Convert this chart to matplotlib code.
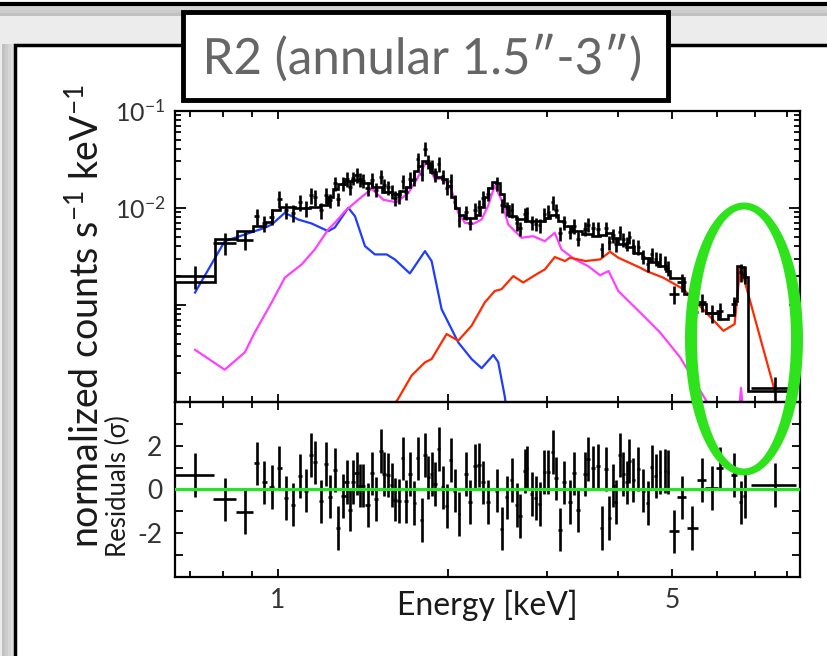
"""
XSPEC-style spectrum panel (R2 annular region): data, model components and residuals.
"""

import numpy as np
import matplotlib
matplotlib.use("Agg")
import matplotlib.pyplot as plt
from matplotlib.patches import Rectangle, PathPatch
from matplotlib.path import Path
from matplotlib.textpath import TextPath
from matplotlib.font_manager import FontProperties
from matplotlib.transforms import Affine2D
from matplotlib.ticker import FixedLocator, NullFormatter

W, H = 828, 656

# ---- data points (keV, counts/s/keV) ----
e_mid = [0.714, 0.806, 0.875, 0.918, 0.947, 0.976, 1.007, 1.034, 1.063, 1.095,
         1.122, 1.146, 1.164, 1.193, 1.218, 1.238, 1.263, 1.280, 1.307, 1.325,
         1.343, 1.361, 1.380, 1.399, 1.418, 1.443, 1.467, 1.493, 1.524, 1.545,
         1.570, 1.592, 1.613, 1.640, 1.665, 1.688, 1.715, 1.746, 1.770, 1.799,
         1.824, 1.848, 1.874, 1.900, 1.931, 1.960, 1.992, 2.027, 2.061, 2.095,
         2.153, 2.191, 2.236, 2.273, 2.313, 2.360, 2.443, 2.493, 2.544, 2.597,
         2.650, 2.686, 2.742, 2.761, 2.818, 2.864, 2.914, 2.966, 3.015, 3.069,
         3.107, 3.162, 3.218, 3.294, 3.353, 3.408, 3.502, 3.549, 3.622, 3.697,
         3.748, 3.814, 3.866, 3.930, 3.973, 4.038, 4.094, 4.151, 4.195, 4.264,
         4.351, 4.441, 4.522, 4.596, 4.671, 4.754, 4.852, 4.918, 5.040, 5.194,
         5.424, 5.636, 5.871, 6.072, 6.436, 6.614, 6.723, 7.597]
e_half = [0.058, 0.037, 0.030, 0.009, 0.009, 0.009, 0.009, 0.009, 0.009, 0.009,
          0.009, 0.009, 0.009, 0.009, 0.009, 0.012, 0.012, 0.012, 0.012, 0.012,
          0.012, 0.012, 0.012, 0.012, 0.012, 0.012, 0.012, 0.012, 0.012, 0.012,
          0.012, 0.012, 0.012, 0.012, 0.012, 0.012, 0.012, 0.012, 0.012, 0.012,
          0.012, 0.012, 0.012, 0.012, 0.012, 0.012, 0.012, 0.012, 0.012, 0.012,
          0.018, 0.018, 0.018, 0.018, 0.018, 0.018, 0.018, 0.018, 0.018, 0.018,
          0.018, 0.018, 0.018, 0.018, 0.018, 0.018, 0.018, 0.018, 0.018, 0.018,
          0.026, 0.026, 0.026, 0.026, 0.026, 0.026, 0.026, 0.026, 0.026, 0.026,
          0.026, 0.026, 0.026, 0.026, 0.026, 0.026, 0.026, 0.026, 0.026, 0.026,
          0.026, 0.026, 0.026, 0.026, 0.026, 0.026, 0.026, 0.026, 0.10, 0.10,
          0.12, 0.11, 0.15, 0.09, 0.08, 0.04, 0.04, 0.70]
flux = [0.00200, 0.00436, 0.00465, 0.00822, 0.00698, 0.00812, 0.0124, 0.00953, 0.00891, 0.01143,
        0.00986, 0.01358, 0.01288, 0.00942, 0.0134, 0.0120, 0.0178, 0.01236, 0.0177, 0.01987,
        0.0163, 0.0203, 0.0218, 0.0197, 0.0191, 0.0159, 0.0195, 0.01538, 0.0210, 0.0171,
        0.0162, 0.0146, 0.01264, 0.01315, 0.0189, 0.01442, 0.0199, 0.0200, 0.0315, 0.0224,
        0.0405, 0.0301, 0.0269, 0.0219, 0.0283, 0.0212, 0.0161, 0.0190, 0.01156, 0.00753,
        0.00895, 0.00695, 0.00949, 0.01031, 0.01262, 0.01396, 0.0178, 0.01064, 0.00993, 0.00953,
        0.00698, 0.00615, 0.00857, 0.00877, 0.00708, 0.00681, 0.00665, 0.00859, 0.00910, 0.01135,
        0.00940, 0.00547, 0.00708, 0.00562, 0.00653, 0.00482, 0.00608, 0.00668, 0.00614, 0.00611,
        0.00375, 0.00617, 0.00442, 0.00521, 0.00424, 0.00560, 0.00472, 0.00432, 0.00499, 0.00405,
        0.00399, 0.00313, 0.00264, 0.00333, 0.00299, 0.00296, 0.00273, 0.00240, 0.00128, 0.00171,
        0.000841, 0.00107, 0.000828, 0.000875, 0.00101, 0.00220, 0.00207, 0.000140]
flux_err = [0.00054, 0.0011, 0.0010, 0.0016, 0.0013, 0.0015, 0.0024, 0.0018, 0.0017, 0.0022,
            0.0019, 0.0026, 0.0024, 0.0018, 0.0025, 0.0020, 0.0029, 0.0020, 0.0029, 0.0033,
            0.0027, 0.0033, 0.0036, 0.0033, 0.0032, 0.0026, 0.0032, 0.0025, 0.0035, 0.0028,
            0.0027, 0.0024, 0.0021, 0.0022, 0.0031, 0.0024, 0.0033, 0.0033, 0.0052, 0.0037,
            0.0067, 0.0050, 0.0044, 0.0036, 0.0047, 0.0035, 0.0027, 0.0031, 0.0019, 0.0012,
            0.0015, 0.0011, 0.0016, 0.0017, 0.0021, 0.0023, 0.0029, 0.0018, 0.0016, 0.0016,
            0.0012, 0.0010, 0.0014, 0.0014, 0.0012, 0.0011, 0.0011, 0.0014, 0.0015, 0.0019,
            0.0016, 0.0009, 0.0012, 0.0009, 0.0011, 0.0008, 0.0010, 0.0011, 0.0010, 0.0010,
            0.0006, 0.0010, 0.0007, 0.0009, 0.0007, 0.0009, 0.0008, 0.0007, 0.0008, 0.0007,
            0.0007, 0.00052, 0.00044, 0.00055, 0.00049, 0.00049, 0.00045, 0.00040, 0.00027, 0.00036,
            0.00018, 0.00022, 0.00017, 0.00018, 0.00021, 0.00046, 0.00043, 0.00004]
# residuals in sigma (error bar is +-1 sigma)
resid = [0.67, -0.46, -1.05, 1.19, 0.32, 0.12, 1.0, -0.4, -0.7, 0.62,
         -0.06, 1.57, 1.23, -0.55, 1.16, -0.33, 0.88, -1.77, -0.29, 0.35,
         -0.93, 0.35, 0.73, 0.17, 0.17, -0.72, 0.73, -0.44, 1.77, 0.70,
         0.65, 0.20, -0.47, -0.52, 1.42, -0.55, 0.70, -0.62, 1.42, -1.4,
         1.57, 0.55, 0.70, 0.24, 1.84, 0.09, -0.75, 1.34, -0.06, -1.13,
         0.70, -0.59, 1.08, 1.11, 0.32, -0.59, -0.06, -1.8, -0.37, 0.44,
         -0.72, -1.23, 0.85, 1.0, -0.21, -0.41, -0.67, 0.78, 0.8, 1.72,
         0.5, -1.84, 0.32, -0.59, 0.73, -0.94, 0.70, 1.38, 1.0, 1.08,
         -1.77, 0.93, -1.32, 0.17, -0.59, 1.57, 0.7, 0.32, 1.31, 0.44,
         0.93, -0.06, -0.62, 1.03, 0.62, 0.8, 0.85, 0.8, -1.93, -0.37,
         -1.77, 0.44, 0.06, 0.96, 0.67, -0.6, -0.29, 0.2]
resid_err = [1.0] * len(resid)

# ---- total model (histogram) ----
model_edges = [0.658, 0.774, 0.846, 0.905, 0.950, 0.977, 1.009, 1.073, 1.141, 1.188,
               1.228, 1.253, 1.279, 1.310, 1.354, 1.410, 1.469, 1.530, 1.594, 1.647,
               1.688, 1.715, 1.744, 1.772, 1.801, 1.830, 1.861, 1.907, 1.954, 1.994,
               2.027, 2.061, 2.095, 2.138, 2.191, 2.245, 2.282, 2.320, 2.357, 2.396,
               2.436, 2.476, 2.516, 2.568, 2.642, 2.742, 2.856, 2.975, 3.036, 3.086,
               3.136, 3.214, 3.320, 3.459, 3.603, 3.722, 3.814, 3.909, 4.006, 4.139,
               4.276, 4.418, 4.565, 4.716, 4.873, 4.953, 5.244, 5.507, 5.736, 6.025,
               6.277, 6.431, 6.511, 6.615, 6.697, 6.808, 8.080]
model_vals = [0.00172, 0.00472, 0.00583, 0.00657, 0.00722, 0.00959, 0.0102, 0.01005, 0.01017, 0.01059,
              0.01297, 0.01552, 0.0175, 0.0188, 0.0194, 0.01786, 0.01622, 0.01456, 0.01383, 0.01494,
              0.01648, 0.01914, 0.0237, 0.0267, 0.0302, 0.0288, 0.0235, 0.0209, 0.0199, 0.0167,
              0.01303, 0.00993, 0.00847, 0.0078, 0.00776, 0.00841, 0.01028, 0.01303, 0.0159, 0.01837,
              0.01791, 0.01383, 0.01038, 0.00832, 0.0076, 0.00734, 0.00739, 0.00787, 0.00851, 0.00841,
              0.00731, 0.00649, 0.00577, 0.00537, 0.00513, 0.00519, 0.00546, 0.00483, 0.00425, 0.00391,
              0.00343, 0.00301, 0.00274, 0.00249, 0.00222, 0.0019, 0.00129, 0.00102, 0.000822, 0.000713,
              0.000784, 0.00109, 0.00249, 0.00244, 0.00192, 0.000131]

# ---- model components ----
blue_e = [0.714, 0.806, 0.875, 0.949, 0.976, 1.030, 1.088, 1.149, 1.229, 1.263,
          1.334, 1.371, 1.428, 1.487, 1.560, 1.613, 1.715, 1.824, 1.874, 1.952,
          2.089, 2.206, 2.298, 2.410, 2.459, 2.527, 2.560]
blue_f = [0.00134, 0.00453, 0.00531, 0.00622, 0.00673, 0.00888, 0.00757, 0.00689, 0.00574, 0.00627,
          0.0100, 0.00819, 0.00403, 0.00331, 0.00331, 0.00294, 0.00211, 0.00358, 0.00283, 0.000903,
          0.000411, 0.000277, 0.000223, 0.000305, 0.000258, 0.000112, 0.00006]

magenta_e = [0.714, 0.806, 0.875, 0.911, 0.976, 1.030, 1.103, 1.164, 1.229, 1.263,
             1.316, 1.389, 1.468, 1.539, 1.624, 1.704, 1.763, 1.837, 1.900, 1.965,
             2.032, 2.089, 2.147, 2.222, 2.298, 2.360, 2.424, 2.492, 2.561, 2.705,
             2.835, 2.974, 3.097, 3.183, 3.362, 3.548, 3.725, 3.857, 4.013, 4.358,
             4.448, 4.757, 5.162, 5.744, 5.880, 6.300, 6.500, 6.620, 6.740, 8.400]
magenta_f = [0.000345, 0.000215, 0.000325, 0.000521, 0.00106, 0.00191, 0.00261, 0.00373, 0.00598, 0.00700,
             0.00921, 0.0121, 0.0157, 0.0121, 0.0114, 0.0142, 0.0195, 0.0305, 0.0195, 0.0203,
             0.0154, 0.00888, 0.00700, 0.00684, 0.00757, 0.0105, 0.0169, 0.0121, 0.00673, 0.00491,
             0.00510, 0.00453, 0.00553, 0.00373, 0.00294, 0.00251, 0.00202, 0.00223, 0.00139, 0.000867,
             0.000771, 0.000521, 0.000289, 0.000103, 0.000073, 0.00004, 0.00004, 0.00014, 0.00004, 0.00001]

red_e = [1.600, 1.635, 1.727, 1.824, 1.874, 1.992, 2.089, 2.206, 2.328, 2.424,
         2.492, 2.615, 2.723, 2.875, 2.974, 3.097, 3.229, 3.296, 3.511, 3.725,
         3.880, 4.013, 4.385, 4.501, 4.818, 5.235, 5.668, 6.161, 6.449, 6.594,
         6.680, 7.610]
red_f = [0.00009, 0.000108, 0.000187, 0.000256, 0.000277, 0.000501, 0.000428, 0.000610, 0.00106, 0.00139,
         0.00145, 0.00198, 0.00170, 0.00207, 0.00232, 0.00311, 0.00283, 0.00306, 0.00283, 0.00294,
         0.00353, 0.00306, 0.00242, 0.00223, 0.00191, 0.00145, 0.000903, 0.000541, 0.000634, 0.00242,
         0.00198, 0.000126]

x_ticks = [1, 2, 5]
x_ticklabels = ["1", "", "5"]
x_minor = [0.7, 0.8, 0.9, 3, 4, 6, 7, 8]
res_ticks = [-4, -3, -2, -1, 0, 1, 2, 3, 4]
res_ticklabels = ["", "", "-2", "", "0", "", "2", "", ""]

title = "R2 (annular 1.5\u2033-3\u2033)"

plt.rcParams["font.family"] = ["Lato", "DejaVu Sans"]
plt.rcParams["mathtext.fontset"] = "custom"
plt.rcParams["mathtext.rm"] = "Lato"
plt.rcParams["mathtext.it"] = "Lato:italic"
plt.rcParams["mathtext.bf"] = "Lato:bold"

fig = plt.figure(figsize=(W / 100, H / 100), dpi=100)
fig.patch.set_facecolor("#ececec")

# pixel coordinates (origin top-left) -> figure
pix = Affine2D().scale(1 / W, -1 / H).translate(0, 1) + fig.transFigure

# page decoration: shadowed panels (kept behind the axes)
for i, a in enumerate([0.10, 0.16, 0.22, 0.30]):
    fig.add_artist(Rectangle((0, 4 + i * 3), W, 3, transform=pix, color="k", alpha=a * 0.6,
                             lw=0, zorder=-5))
    fig.add_artist(Rectangle((14 - (i + 1) * 3, 44), 3, H, transform=pix, color="k",
                             alpha=a * 0.6, lw=0, zorder=-5))
fig.add_artist(Rectangle((-5, -10), W + 10, 14, transform=pix, facecolor="white",
                         edgecolor="black", lw=3, zorder=-4))
fig.add_artist(Rectangle((15, 45), W + 20, H, transform=pix, facecolor="white",
                         edgecolor="black", lw=2.5, zorder=-4))

# title box
fig.add_artist(Rectangle((186, 15), 485, 88, transform=pix, facecolor="#9a9a9a", lw=0,
                         alpha=0.5, zorder=-3))
fig.add_artist(Rectangle((183, 12), 485, 88, transform=pix, facecolor="white",
                         edgecolor="black", lw=3.5, zorder=-2))
# condensed title: text outline squeezed horizontally
tp = TextPath((0, 0), title, size=100, prop=FontProperties(family="Lato"))
ext = tp.get_extents()
sy = 50 / 100
sx = 433 / ext.width
title_tr = (Affine2D().translate(-ext.x0, 0).scale(sx, -sy).translate(207, 74) + pix)
fig.add_artist(PathPatch(tp, transform=title_tr, facecolor="#666666", edgecolor="none",
                         zorder=-1))

ax1 = fig.add_axes([175 / W, 1 - 402 / H, 625 / W, (402 - 110.7) / H])
ax2 = fig.add_axes([175 / W, 1 - 576.7 / H, 625 / W, (576.7 - 402) / H], sharex=ax1)
for ax in (ax1, ax2):
    ax.patch.set_alpha(0)

ax1.set_xscale("log")
ax1.set_yscale("log")
ax1.set_xlim(0.658, 8.42)
ax1.set_ylim(1.03e-4, 0.1)

ax1.plot(blue_e, blue_f, color="#1f3cff", lw=1.6, zorder=2)
ax1.plot(magenta_e, magenta_f, color="#ff40ff", lw=1.6, zorder=2)
ax1.plot(red_e, red_f, color="#ff2a00", lw=1.6, zorder=2)
ax1.stairs(model_vals, model_edges, color="black", lw=1.9, zorder=3)
ax1.errorbar(e_mid, flux, xerr=e_half, yerr=flux_err, fmt="none", ecolor="black",
             elinewidth=1.9, capsize=0, zorder=4)

ax2.errorbar(e_mid, resid, xerr=e_half, yerr=resid_err, fmt="none", ecolor="black",
             elinewidth=1.9, capsize=0, zorder=3)
ax2.axhline(0, color="#22e622", lw=2.2, zorder=4)
ax2.set_ylim(-4, 4)

for ax in (ax1, ax2):
    for s in ax.spines.values():
        s.set_linewidth(1.6)
    ax.tick_params(which="both", direction="in", top=True, right=True, width=1.3,
                   colors="black", labelcolor="#333333")
    ax.tick_params(which="major", length=6)
    ax.tick_params(which="minor", length=4)

ax2.xaxis.set_major_locator(FixedLocator(x_ticks))
ax2.xaxis.set_minor_locator(FixedLocator(x_minor))
ax2.set_xticklabels(x_ticklabels, fontsize=19)
ax2.xaxis.set_minor_formatter(NullFormatter())
ax1.tick_params(labelbottom=False)
ax2.tick_params(axis="x", pad=8)

ax1.set_yticks([1e-4, 1e-3, 1e-2, 1e-1])
ax1.set_yticklabels(["", "", r"$10^{-2}$", r"$10^{-1}$"], fontsize=18)
ax1.yaxis.set_minor_locator(FixedLocator([m * d for d in (1e-4, 1e-3, 1e-2) for m in range(2, 10)]))
ax1.yaxis.set_minor_formatter(NullFormatter())
ax1.tick_params(axis="y", which="major", length=8, pad=7)

ax2.set_yticks(res_ticks)
ax2.set_yticklabels(res_ticklabels, fontsize=19)
ax2.tick_params(axis="y", pad=9)

fig.text(86 / W, 1 - 316 / H, r"normalized counts s$^{-1}$ keV$^{-1}$", rotation=90,
         ha="center", va="center", fontsize=27, color="#1a1a1a")
fig.text(118 / W, 1 - 486 / H, "Residuals (\u03c3)", rotation=90, ha="center", va="center",
         fontsize=18.5, color="#1a1a1a")
fig.text(487 / W, 1 - 605 / H, "Energy [keV]", ha="center", va="center", fontsize=23,
         color="#1a1a1a")

# green ring highlighting the Fe line region (thicker on the sides)
t = np.linspace(0, 2 * np.pi, 200)
cx, cy = 744, 339
outer = np.column_stack([cx + 59 * np.cos(t), cy + 136.5 * np.sin(t)])
inner = np.column_stack([cx + 47 * np.cos(t[::-1]), cy + 129.5 * np.sin(t[::-1])])
verts = np.vstack([outer, outer[:1], inner, inner[:1]])
codes = ([Path.MOVETO] + [Path.LINETO] * (len(outer) - 1) + [Path.CLOSEPOLY]) * 2
ring = PathPatch(Path(verts, codes), transform=pix, facecolor="#2ee31c", edgecolor="none", zorder=10)
fig.add_artist(ring)

fig.savefig("out.png", dpi=100)
